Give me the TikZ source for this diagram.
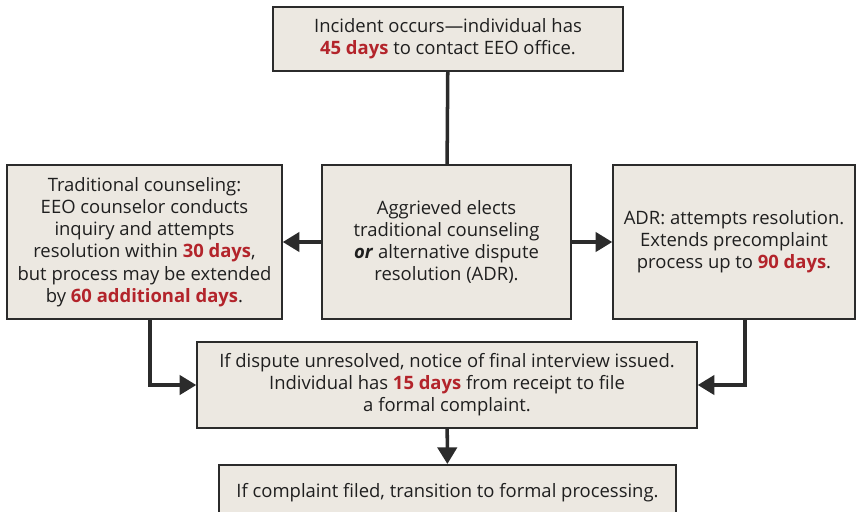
\documentclass[tikz,border=0pt]{standalone}
\usepackage{fontspec}
\setmainfont{Open Sans}
\usetikzlibrary{arrows.meta}
\definecolor{boxfill}{HTML}{ECE8E1}
\definecolor{deadline}{HTML}{B3242B}
\definecolor{edge}{HTML}{2B2B2B}
\newcommand{\dl}[1]{\textbf{\color{deadline}#1}}
\tikzset{
  stepbox/.style={draw=edge, fill=boxfill, line width=0.9pt, inner sep=0pt, align=center,
    font=\fontsize{10.5pt}{12.6pt}\selectfont, text=black!88},
  flow/.style={line width=2pt, draw=edge, -{Triangle[length=9.5pt, width=11pt]}},
  plainlink/.style={line width=2pt, draw=edge},
}

\begin{document}
\begin{tikzpicture}[x=0.02cm, y=-0.02cm]
\useasboundingbox (0,0) rectangle (857,511);
\node[stepbox, minimum width=7.0cm, minimum height=1.28cm] (incident) at (448,39)
  {Incident occurs---individual has\\ \dl{45 days} to contact EEO office.};
\node[stepbox, minimum width=4.98cm, minimum height=3.08cm] (elect) at (446.5,242)
  {Aggrieved elects\\ traditional counseling\\ \textbf{\textit{or}} alternative dispute\\ resolution (ADR).};
\node[stepbox, minimum width=5.5cm, minimum height=3.08cm] (counsel) at (144.5,242)
  {Traditional counseling:\\ EEO counselor conducts\\ inquiry and attempts\\ resolution within \dl{30 days},\\ but process may be extended\\ by \dl{60 additional days}.};
\node[stepbox, minimum width=4.84cm, minimum height=3.08cm] (adr) at (734,242)
  {ADR: attempts resolution.\\ Extends precomplaint\\ process up to \dl{90 days}.};
\node[stepbox, minimum width=10cm, minimum height=1.72cm] (notice) at (447,385)
  {If dispute unresolved, notice of final interview issued.\\ Individual has \dl{15 days} from receipt to file\\ a formal complaint.};
\node[stepbox, minimum width=9.14cm, minimum height=1.12cm, anchor=north] (formal) at (447.5,464)
  {If complaint filed, transition to formal processing.};
\draw[plainlink] (incident) -- (elect);
\draw[flow] (elect) -- (counsel);
\draw[flow] (elect) -- (adr);
\draw[flow] ([xshift=0.11cm]counsel.south) |- (notice.west);
\draw[flow] ([xshift=0.22cm]adr.south) |- (notice.east);
\draw[flow] (notice) -- (formal);
\end{tikzpicture}
\end{document}
